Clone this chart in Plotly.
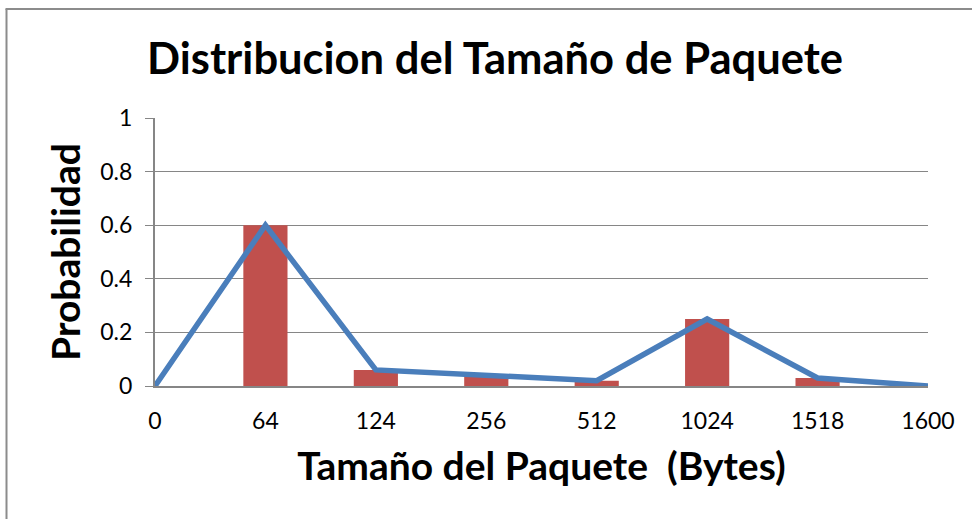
import plotly.graph_objects as go

# Packet-size distribution
sizes = ["0", "64", "124", "256", "512", "1024", "1518", "1600"]
probability = [0, 0.6, 0.06, 0.04, 0.02, 0.25, 0.03, 0]

y_ticks = [0, 0.2, 0.4, 0.6, 0.8, 1]
y_tick_text = ["0", "0.2", "0.4", "0.6", "0.8", "1"]

FONT = "Lato"
GRID = "#868686"

fig = go.Figure()
fig.add_trace(go.Bar(
    x=sizes, y=probability, width=0.4,
    marker=dict(color="#C0504D", line=dict(width=0)),
    hoverinfo="skip", showlegend=False,
))
fig.add_trace(go.Scatter(
    x=sizes, y=probability, mode="lines",
    line=dict(color="#4A7EBB", width=5.5),
    hoverinfo="skip", showlegend=False,
))

L, R, T, B = 155, 44, 118, 133
W, H = 972, 519
pw, ph = W - L - R, H - T - B


def px_x(px):
    return (px - L) / pw


def px_y(py):
    return (H - B - py) / ph


# chart-area frame (left and top edges)
frame = dict(color="#8C8C8C", width=2)
shapes = [
    dict(type="line", xref="paper", yref="paper", x0=px_x(6.5), x1=px_x(6.5),
         y0=px_y(9), y1=px_y(530), line=frame),
    dict(type="line", xref="paper", yref="paper", x0=px_x(5.5), x1=px_x(990),
         y0=px_y(9), y1=px_y(9), line=frame),
]

fig.update_layout(
    width=W, height=H,
    margin=dict(l=L, r=R, t=T, b=B),
    paper_bgcolor="white", plot_bgcolor="white",
    font=dict(family=FONT, color="black"),
    title=dict(text="<b>Distribucion del Tamaño de Paquete</b>",
               font=dict(family=FONT, size=43.5, color="black"),
               x=495 / W, xanchor="center", xref="container",
               y=1 - 59 / H, yanchor="middle", yref="container"),
    xaxis=dict(
        type="category", range=[0, len(sizes) - 1],
        showgrid=False, showline=True, linecolor=GRID, linewidth=2,
        ticks="", tickfont=dict(family=FONT, size=23, color="black"),
        ticklabelstandoff=13,
        title=dict(text="<b>Tamaño del Paquete  (Bytes)</b>",
                   font=dict(family=FONT, size=39, color="black"),
                   standoff=20),
        zeroline=False,
    ),
    yaxis=dict(
        range=[0, 1], tickvals=y_ticks, ticktext=y_tick_text,
        showgrid=True, gridcolor=GRID, gridwidth=1,
        showline=True, linecolor=GRID, linewidth=2,
        ticks="outside", ticklen=8, tickcolor=GRID, tickwidth=1,
        tickfont=dict(family=FONT, size=23, color="black"),
        ticklabelstandoff=8,
        title=dict(text="<b>Probabilidad</b>",
                   font=dict(family=FONT, size=39, color="black"),
                   standoff=8),
        zeroline=False,
    ),
    shapes=shapes,
)

fig.write_html("out.html")
